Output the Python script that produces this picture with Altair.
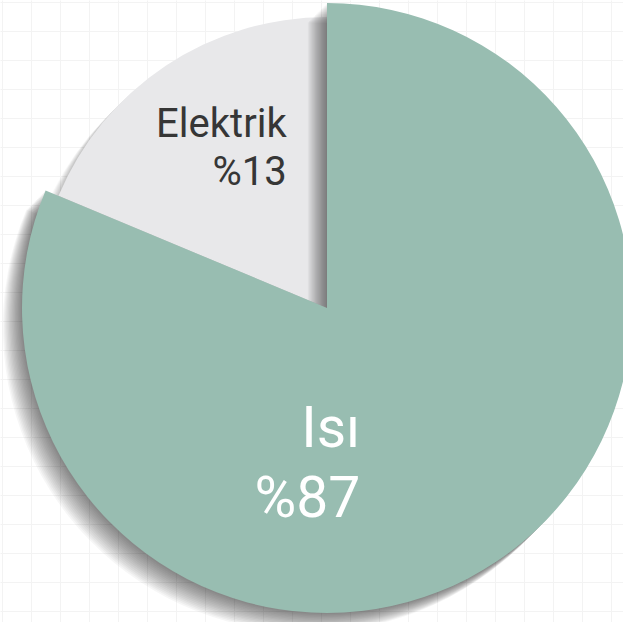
import math
import altair as alt
import pandas as pd

# ---- data ----
categories = ["Isı", "Elektrik"]
label_pct = [87, 13]          # printed labels
drawn_share = [81.3, 18.7]    # share of the circle as drawn in the picture
order = [0, 1]
grid_vals = list(range(2, 623, 29))

df = pd.DataFrame({"cat": categories, "pct": label_pct, "share": drawn_share, "order": order})

CX, CY = 327, 308
R_TEAL, R_GREY = 305, 291
TEAL = "#98bdb1"
GREY = "#e8e8ea"

theta_scale = alt.Scale(domain=[0, 100], range=[0, 2 * math.pi])

base = alt.Chart(df).transform_stack(
    stack="share", groupby=[], as_=["s0", "s1"], sort=[alt.SortField("order", order="ascending")]
).transform_calculate(
    mid="(datum.s0 + datum.s1) / 2",
    label="datum.cat + '\\n' + '%' + datum.pct",
)

def wedge(cat, color, radius, x, y, opacity=1.0):
    return base.transform_filter(alt.datum.cat == cat).mark_arc(
        color=color, outerRadius=radius, opacity=opacity, stroke=None
    ).encode(
        theta=alt.Theta("s0:Q", scale=theta_scale),
        theta2="s1:Q",
        x=alt.value(x),
        y=alt.value(y),
    )

# background grid
grid = alt.Chart(pd.DataFrame({"gx": [0], "gy": [0]})).mark_point(opacity=0).encode(
    x=alt.X("gx:Q", scale=alt.Scale(domain=[0, 623], nice=False, zero=False),
            axis=alt.Axis(values=grid_vals, grid=True, gridColor="#f3f3f3", gridWidth=1,
                          labels=False, ticks=False, domain=False, title=None)),
    y=alt.Y("gy:Q", scale=alt.Scale(domain=[622, 0], nice=False, zero=False),
            axis=alt.Axis(values=grid_vals, grid=True, gridColor="#f3f3f3", gridWidth=1,
                          labels=False, ticks=False, domain=False, title=None)),
)

layers = [grid]

# soft shadow of the grey wedge
for d in range(1, 13):
    layers.append(wedge("Elektrik", "black", R_GREY, CX - d * 1.2, CY + d * 1.2, 0.02))
layers.append(wedge("Elektrik", GREY, R_GREY, CX, CY))

# soft shadow of the teal wedge
for d in range(1, 17):
    layers.append(wedge("Isı", "black", R_TEAL, CX - d * 1.2, CY + d * 1.2, 0.035))
layers.append(wedge("Isı", TEAL, R_TEAL, CX, CY))

theta_mid = alt.Theta("mid:Q", scale=theta_scale)

text_el = base.transform_filter(alt.datum.cat == "Elektrik").mark_text(
    radius=190, align="right", baseline="middle", dx=65, dy=-25,
    font="Roboto", fontSize=40, lineHeight=48, color="#363636", lineBreak="\n",
).encode(theta=theta_mid, text="label:N", x=alt.value(CX), y=alt.value(CY))

text_isi = base.transform_filter(alt.datum.cat == "Isı").mark_text(
    radius=170, align="right", baseline="middle", dx=-61, dy=-19,
    font="Roboto", fontSize=57, lineHeight=70, color="white", lineBreak="\n",
).encode(theta=theta_mid, text="label:N", x=alt.value(CX), y=alt.value(CY))

layers += [text_el, text_isi]

chart = alt.layer(*layers).properties(
    width=623, height=622, padding=0, autosize=alt.AutoSizeParams(type="none"),
    background="white",
).configure_view(stroke=None)

chart.save("out.html", embed_options={"renderer": "svg", "actions": False})
